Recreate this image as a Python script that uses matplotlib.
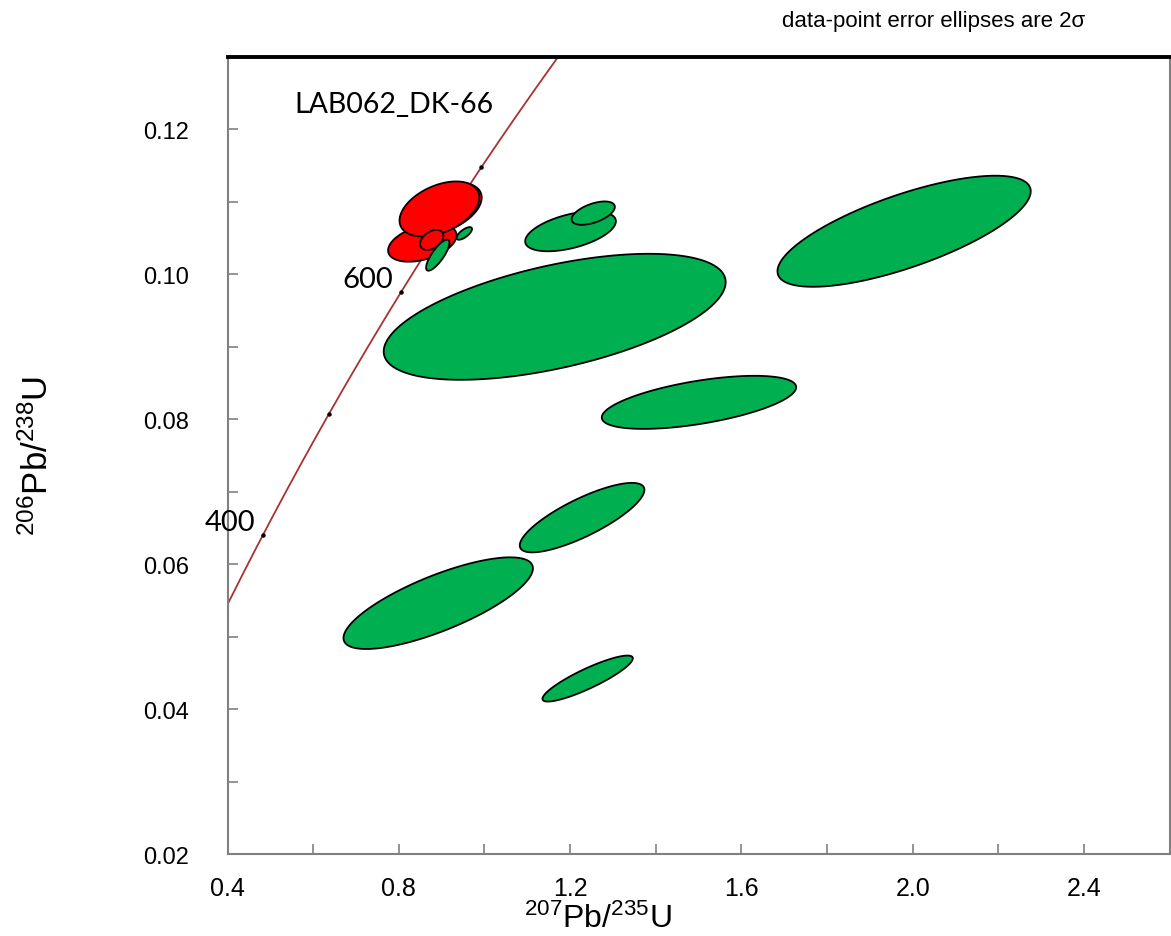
import numpy as np
import matplotlib
matplotlib.use("Agg")
import matplotlib.pyplot as plt
from matplotlib.patches import Polygon

# Concordia decay constants (1/Ma)
LAMBDA_235 = 9.8485e-4
LAMBDA_238 = 1.55125e-4

# Error ellipses: centre (207Pb/235U, 206Pb/238U), 2-sigma half extents, error correlation
red_x   = [0.855, 0.9035, 0.8948, 0.877]
red_y   = [0.1043, 0.10905, 0.10897, 0.1047]
red_ex  = [0.0800, 0.0900, 0.0931, 0.0272]
red_ey  = [0.00260, 0.00355, 0.00380, 0.00138]
red_rho = [0.40, 0.42, 0.42, 0.40]

green_x   = [1.164, 1.980, 1.501, 1.228, 0.892, 1.241, 1.201, 1.254, 0.891, 0.953]
green_y   = [0.0941, 0.1059, 0.0823, 0.0664, 0.0546, 0.0442, 0.1059, 0.1084, 0.1026, 0.1056]
green_ex  = [0.3993, 0.2957, 0.2270, 0.1455, 0.2212, 0.1055, 0.1059, 0.0505, 0.0272, 0.0179]
green_ey  = [0.00869, 0.00766, 0.00366, 0.00479, 0.00632, 0.00317, 0.00276, 0.00161, 0.00214, 0.00087]
green_rho = [0.55, 0.72, 0.57, 0.80, 0.76, 0.88, 0.50, 0.53, 0.80, 0.70]

age_ticks = [400, 500, 600, 700]
age_labels = {400: "400", 600: "600"}

x_ticks = [0.4, 0.8, 1.2, 1.6, 2.0, 2.4]
x_ticklabels = ["0.4", "0.8", "1.2", "1.6", "2.0", "2.4"]
y_ticks = [0.02, 0.04, 0.06, 0.08, 0.10, 0.12]
y_ticklabels = ["0.02", "0.04", "0.06", "0.08", "0.10", "0.12"]

sample_name = "LAB062_DK-66"
note = "data-point error ellipses are 2\u03c3"

GREEN = "#00B050"
RED = "#FF0000"
GREY = "#808080"
ARIAL = ["Liberation Sans", "DejaVu Sans"]
CALIBRI = ["Lato", "DejaVu Sans"]

plt.rcParams["mathtext.fontset"] = "custom"
plt.rcParams["mathtext.rm"] = "Liberation Sans"
plt.rcParams["mathtext.default"] = "regular"


def ellipse_points(cx, cy, ex, ey, rho, n=240):
    t = np.linspace(0, 2 * np.pi, n)
    x = cx + ex * np.cos(t)
    y = cy + ey * (rho * np.cos(t) + np.sqrt(1 - rho ** 2) * np.sin(t))
    return np.column_stack([x, y])


def concordia(t):
    return np.exp(LAMBDA_235 * t) - 1, np.exp(LAMBDA_238 * t) - 1


fig = plt.figure(figsize=(11.71, 9.37), dpi=100)
ax = fig.add_axes([0.1943, 0.0875, 0.8045, 0.8511])
ax.set_xlim(0.4, 2.6)
ax.set_ylim(0.02, 0.13)

# concordia curve and age marks
t = np.linspace(300, 900, 600)
cx_, cy_ = concordia(t)
ax.plot(cx_, cy_, color="#A83232", lw=1.3, zorder=2)
tx, ty = concordia(np.array(age_ticks, dtype=float))
ax.plot(tx, ty, "o", color="black", ms=2.2, zorder=2)
for age, lab in age_labels.items():
    px, py = concordia(age)
    ax.annotate(lab, (px, py), xytext=(-24, 9), textcoords="offset points",
                ha="center", va="center", fontsize=21, family=CALIBRI)

# error ellipses
for i in range(len(red_x)):
    pts = ellipse_points(red_x[i], red_y[i], red_ex[i], red_ey[i], red_rho[i])
    ax.add_patch(Polygon(pts, closed=True, facecolor=RED, edgecolor="black", lw=1.3, zorder=3))
for i in range(len(green_x)):
    pts = ellipse_points(green_x[i], green_y[i], green_ex[i], green_ey[i], green_rho[i])
    ax.add_patch(Polygon(pts, closed=True, facecolor=GREEN, edgecolor="black", lw=1.3, zorder=3))

ax.text(0.071, 0.94, sample_name, transform=ax.transAxes, ha="left", va="center",
        fontsize=20.5, family=CALIBRI)

# axes styling
for side in ["left", "bottom", "right"]:
    ax.spines[side].set_color(GREY)
    ax.spines[side].set_linewidth(1.5)
ax.spines["top"].set_color("black")
ax.spines["top"].set_linewidth(2.8)

ax.set_xticks(x_ticks)
ax.set_xticklabels(x_ticklabels, family=ARIAL, fontsize=18)
ax.set_yticks(y_ticks)
ax.set_yticklabels(y_ticklabels, family=ARIAL, fontsize=17)
ax.set_xticks(np.arange(0.6, 2.6, 0.4), minor=True)
ax.set_yticks(np.arange(0.03, 0.13, 0.02), minor=True)
ax.tick_params(which="both", direction="in", color=GREY, width=1.2, length=7,
               top=False, right=False)
ax.tick_params(axis="x", which="major", pad=16)
ax.tick_params(axis="y", which="major", pad=28)

ax.set_ylabel(r"$^{206}$Pb/$^{238}$U", family=ARIAL, fontsize=25, labelpad=63)
fig.text(598 / 1171, 1 - 919 / 937, r"$^{207}$Pb/$^{235}$U", ha="center", va="center",
         fontsize=23, family=ARIAL)

fig.text(0.797, 0.977, note, ha="center", va="center", fontsize=16, family=ARIAL)

fig.savefig("out.png", dpi=100)
